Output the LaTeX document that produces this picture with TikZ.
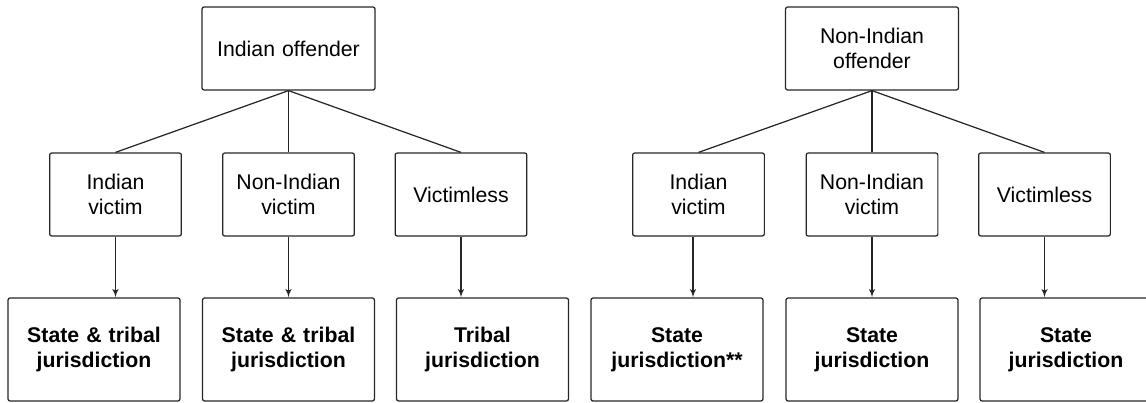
\documentclass[tikz,border=0pt]{standalone}
\usepackage{fontspec}
\setmainfont{Liberation Sans}
\usepackage{tikz}
\usetikzlibrary{shapes,arrows}
\tikzstyle{line} = [draw, draw=black!85, line width=0.7pt]
\tikzstyle{arrow} = [draw, draw=black!85, line width=0.7pt, -latex']
\tikzstyle{offender} = [rectangle, draw, draw=black!85, line width=0.7pt, rounded corners=1.2pt, text width=3.2cm, minimum width=3.46cm, minimum height=1.66cm, align=center, font=\fontsize{12.1}{14.2}\selectfont]
\tikzstyle{victim} = [rectangle, draw, draw=black!85, line width=0.7pt, rounded corners=1.2pt, text width=2.4cm, minimum width=2.58cm, minimum height=1.66cm, align=center, font=\fontsize{12.1}{14.2}\selectfont]
\tikzstyle{juris} = [rectangle, draw, draw=black!85, line width=0.7pt, rounded corners=1.2pt, text width=3.2cm, minimum width=3.44cm, minimum height=2.06cm, align=center, font=\fontsize{12.1}{14.2}\selectfont\bfseries]

\begin{document}
\begin{tikzpicture}
	\useasboundingbox (0,0) rectangle (22.92,-8.04);
	% Indian offender
	\node [offender] (indoff) at (5.77,-0.97) {Indian offender};
	\node [victim, below of=indoff, xshift=-3.46cm, node distance=2.92cm] (indvic) {Indian \\ victim};
	\node [victim, below of=indoff, node distance=2.92cm] (indnonvic) {Non-Indian \\ victim};
	\node [victim, below of=indoff, xshift=3.45cm, node distance=2.92cm] (indnovic) {Victimless};
	\path [line] (indoff.south) to (indvic.north);
	\path [line] (indoff.south) to (indnonvic.north);
	\path [line] (indoff.south) to (indnovic.north);
	\node [juris, below of=indvic, xshift=-0.43cm, node distance=3.1cm] (indvicjur) {State \& tribal \\ jurisdiction};
	\node [juris, below of=indnonvic, node distance=3.1cm] (indnonvicjur) {State \& tribal \\ jurisdiction};
	\node [juris, below of=indnovic, xshift=0.43cm, node distance=3.1cm] (indnovicjur) {Tribal \\ jurisdiction};
	\path [arrow] (indvic.south) to (indvic.south |- indvicjur.north);
	\path [arrow] (indnonvic.south) to (indnonvicjur.north);
	\path [arrow] (indnovic.south) to (indnovic.south |- indnovicjur.north);
	
	% Non-Indian offender
	\node [offender, right of=indoff, node distance=11.67cm] (nonoff) {Non-Indian \\ offender};
	\node [victim, below of=nonoff, xshift=-3.47cm, node distance=2.92cm] (nonvic) {Indian \\ victim};
	\node [victim, below of=nonoff, node distance=2.92cm] (nonnonvic) {Non-Indian \\ victim};
	\node [victim, below of=nonoff, xshift=3.45cm, node distance=2.92cm] (nonnovic) {Victimless};
	\path [line] (nonoff.south) to (nonvic.north);
	\path [line] (nonoff.south) to (nonnonvic.north);
	\path [line] (nonoff.south) to (nonnovic.north);
	\node [juris, below of=nonvic, xshift=-0.43cm, node distance=3.1cm] (nonvicjur) {State \\ jurisdiction**};
	\node [juris, below of=nonnonvic, node distance=3.1cm] (nonnonvicjur) {State \\ jurisdiction};
	\node [juris, below of=nonnovic, xshift=0.43cm, node distance=3.1cm] (nonnovicjur) {State \\ jurisdiction};
	\path [arrow] ([xshift=-0.11cm]nonvic.south) to ([xshift=-0.11cm]nonvic.south |- nonvicjur.north);
	\path [arrow] (nonnonvic.south) to (nonnonvicjur.north);
	\path [arrow] (nonnovic.south) to (nonnovic.south |- nonnovicjur.north);
\end{tikzpicture}
\end{document}
